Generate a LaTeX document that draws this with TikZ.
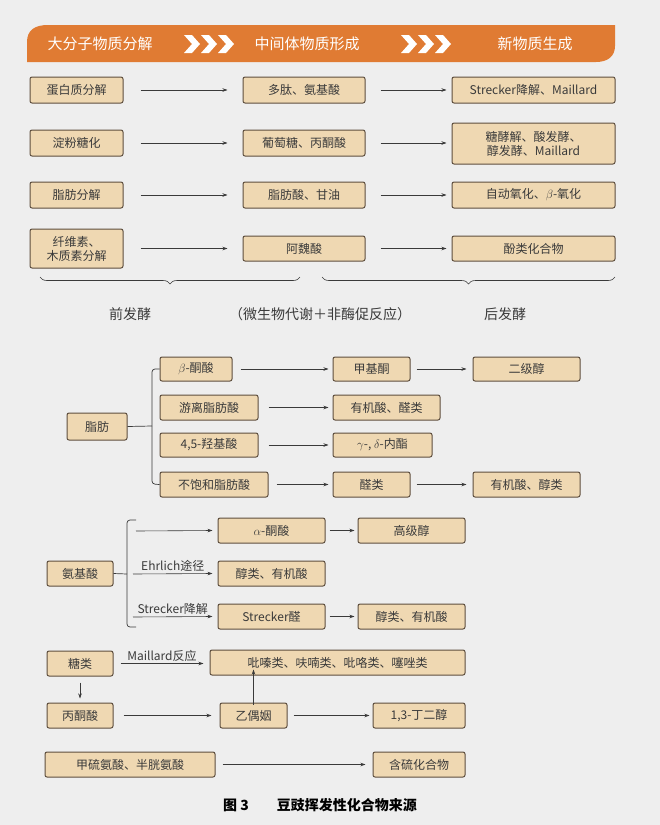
\documentclass[tikz,border=0pt]{standalone}
\usepackage{fontspec}
\setmainfont{Noto Sans CJK SC}
\usetikzlibrary{arrows.meta,decorations.pathreplacing}
\definecolor{bg}{HTML}{EEEEEE}
\definecolor{boxf}{HTML}{EFD8B2}
\definecolor{boxd}{HTML}{5E4E3E}
\definecolor{ban}{HTML}{E07B33}
\definecolor{txt}{HTML}{3A3A3A}
\tikzset{
  bx/.style={draw=boxd,line width=1pt,fill=boxf,rounded corners=2pt,inner sep=1pt,text=txt,font=\fontsize{12}{14}\selectfont,align=center},
  ar/.style={draw=txt,line width=0.6pt,-{Stealth[length=5pt,width=3.5pt]}},
  lb/.style={text=txt,font=\fontsize{12}{14}\selectfont,inner sep=1pt},
  chev/.style={fill=white,draw=none},
  brc/.style={txt,line width=0.6pt,decorate,decoration={brace,mirror,amplitude=7pt}}
}
\newcommand{\B}[6]{\node[bx,minimum width=#3-#2,minimum height=#5-#4] (#1) at ({(#2+#3)/2},{(#4+#5)/2}) {#6};}
\begin{document}
\begin{tikzpicture}[x=1pt,y=-1pt]
\fill[bg] (0,0) rectangle (660,825);
\useasboundingbox (0,0) rectangle (660,825);
% banner
\fill[ban] (27,62) -- (27,42) .. controls (27,30) and (35,25) .. (48,25) -- (615,25) -- (615,46) .. controls (615,56) and (608,62) .. (596,62) -- cycle;
\node[text=white,font=\fontsize{15}{17}\selectfont] (h1) at (100,44) {大分子物质分解};
\node[text=white,font=\fontsize{15}{17}\selectfont] (h2) at (307,44) {中间体物质形成};
\node[text=white,font=\fontsize{15}{17}\selectfont] (h3) at (535,44) {新物质生成};
\foreach \s in {184,201,218,401,418,435}{
  \fill[chev] (\s,35) -- (\s+8,35) -- (\s+16,44) -- (\s+8,53) -- (\s,53) -- (\s+8,44) -- cycle;}
% top rows
\B{a1}{30}{123}{77}{103}{蛋白质分解}
\B{a2}{243}{365}{77}{103}{多肽、氨基酸}
\B{a3}{452}{615}{77}{103}{Strecker降解、Maillard}
\B{b1}{30}{123}{130}{156}{淀粉糖化}
\B{b2}{243}{365}{130}{156}{葡萄糖、丙酮酸}
\B{b3}{452}{615}{123}{164}{糖酵解、酸发酵、\\醇发酵、Maillard}
\B{c1}{30}{123}{182}{208}{脂肪分解}
\B{c2}{243}{365}{182}{208}{脂肪酸、甘油}
\B{c3}{452}{615}{182}{208}{自动氧化、$\beta$-氧化}
\B{d1}{30}{123}{229}{268}{纤维素、\\木质素分解}
\B{d2}{243}{365}{236}{261}{阿魏酸}
\B{d3}{452}{615}{236}{261}{酚类化合物}
\foreach \r in {a,b,c,d}{
  \draw[ar] ([xshift=17pt]\r1.east |- \r2) -- ([xshift=-15pt]\r2.west);
  \draw[ar] ([xshift=15pt]\r2.east) -- ([xshift=-5pt]\r3.west |- \r2);}
\coordinate (p1) at (40,277); \coordinate (p2) at (300,277);
\coordinate (p3) at (322,277); \coordinate (p4) at (615,277);
\draw[brc] (p1) -- (p2);
\draw[brc] (p3) -- (p4);
\node[lb,font=\fontsize{14}{16}\selectfont] (l1) at (130,314) {前发酵};
\node[lb,font=\fontsize{14}{16}\selectfont] (l2) at (320,314) {（微生物代谢＋非酶促反应）};
\node[lb,font=\fontsize{14}{16}\selectfont] (l3) at (505,314) {后发酵};
% fat
\B{f0}{67}{127}{413}{440}{脂肪}
\B{f1}{160}{232}{357}{381}{$\beta$-酮酸}
\B{f2}{160}{258}{395}{420}{游离脂肪酸}
\B{f3}{160}{258}{433}{457}{4,5-羟基酸}
\B{f4}{160}{268}{472}{497}{不饱和脂肪酸}
\B{g1}{333}{410}{357}{381}{甲基酮}
\B{g2}{333}{440}{395}{420}{有机酸、醛类}
\B{g3}{333}{432}{433}{457}{$\gamma$-, $\delta$-内酯}
\B{g4}{333}{410}{472}{497}{醛类}
\B{h1b}{473}{580}{357}{381}{二级醇}
\B{h4b}{473}{580}{472}{497}{有机酸、醇类}
\draw[txt,line width=0.7pt,rounded corners=3pt] (f1.west) -- (152,369) -- (152,484) -- (f4.west);
\draw[txt,line width=0.7pt] (f0.east) -- (152,426);
\draw[ar] ([xshift=8pt]f1.east) -- ([xshift=-4pt]g1.west);
\draw[ar] ([xshift=10pt]f2.east) -- ([xshift=-4pt]g2.west);
\draw[ar] ([xshift=10pt]f3.east) -- ([xshift=-4pt]g3.west);
\draw[ar] ([xshift=8pt]f4.east) -- ([xshift=-4pt]g4.west);
\draw[ar] ([xshift=6pt]g1.east) -- ([xshift=-6pt]h1b.west);
\draw[ar] ([xshift=6pt]g4.east) -- ([xshift=-6pt]h4b.west);
% amino acid
\B{k0}{47}{113}{561}{586}{氨基酸}
\B{k1}{218}{325}{518}{543}{$\alpha$-酮酸}
\B{k2}{218}{325}{561}{586}{醇类、有机酸}
\B{k3}{218}{325}{604}{629}{Strecker醛}
\B{m1}{358}{465}{518}{543}{高级醇}
\B{m3}{358}{465}{604}{629}{醇类、有机酸}
\draw[txt,line width=0.7pt,rounded corners=3pt] (136,520) -- (127,520) -- (127,627) -- (136,627);
\draw[txt,line width=0.7pt] (k0.east) -- (127,574);
\coordinate (s1) at (136,531); \coordinate (s2) at (133,574); \coordinate (s3) at (133,617);
\draw[ar] (s1) -- ([xshift=-5pt]k1.west);
\draw[ar] (s2) -- node[lb,above=1pt] (e1) {Ehrlich途径} ([xshift=-5pt]k2.west);
\draw[ar] (s3) -- node[lb,above=1pt] (e2) {Strecker降解} ([xshift=-5pt]k3.west);
\draw[ar] ([xshift=4pt]k1.east) -- ([xshift=-3pt]m1.west);
\draw[ar] ([xshift=4pt]k3.east) -- ([xshift=-3pt]m3.west);
% sugar
\B{n0}{47}{113}{651}{676}{糖类}
\B{n1}{210}{465}{650}{675}{吡嗪类、呋喃类、吡咯类、噻唑类}
\B{n2}{47}{113}{703}{728}{丙酮酸}
\B{n3}{220}{287}{703}{728}{乙偶姻}
\B{n4}{373}{465}{703}{728}{1,3-丁二醇}
\draw[ar] ([xshift=7pt]n0.east) -- node[lb,above=1pt] (e3) {Maillard反应} ([xshift=-6pt]n1.west |- n0);
\draw[ar] ([yshift=-6pt]n0.south) -- ([yshift=4pt]n2.north);
\draw[ar] ([xshift=10pt]n2.east) -- ([xshift=-8pt]n3.west);
\draw[ar] ([xshift=6pt]n3.east) -- ([xshift=-3pt]n4.west);
\draw[ar] ([yshift=-2pt]n3.north) -- ([yshift=6pt]n3.north |- n1.south);
\B{q0}{45}{215}{752}{777}{甲硫氨酸、半胱氨酸}
\B{q1}{373}{465}{752}{777}{含硫化合物}
\draw[ar] ([xshift=7pt]q0.east) -- ([xshift=-7pt]q1.west);
% caption
\node[text=black,font=\bfseries\fontsize{14}{16}\selectfont] (cap) at (320,805) {图 3\qquad 豆豉挥发性化合物来源};
\end{tikzpicture}
\end{document}
